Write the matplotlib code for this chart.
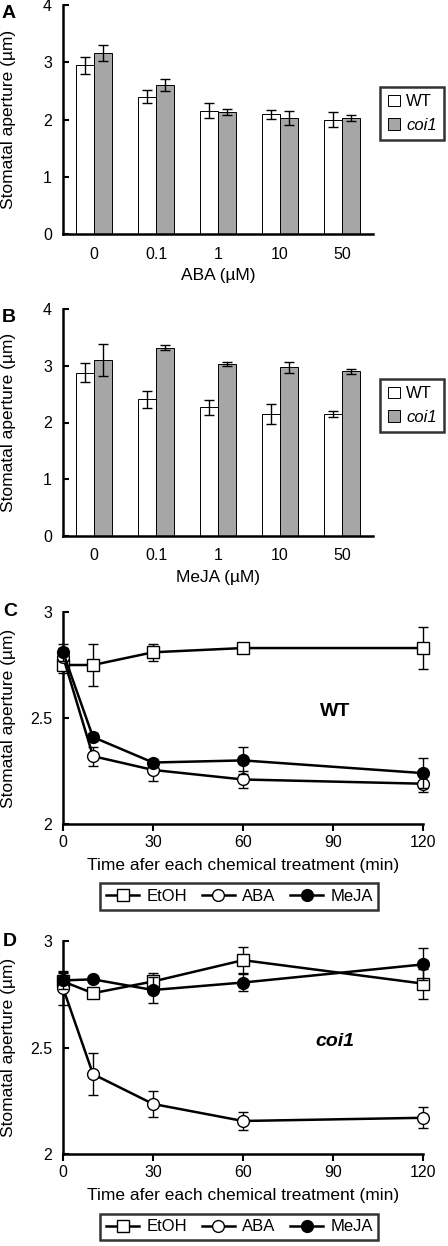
import matplotlib as mpl
mpl.use('Agg')
import numpy as np
import matplotlib.pyplot as plt
from matplotlib.lines import Line2D
from matplotlib.patches import Patch

plt.rcParams['font.family'] = ['Liberation Sans', 'DejaVu Sans']

# Panel A / B: bar data
conc_labels = ['0', '0.1', '1', '10', '50']
aba_wt = [2.95, 2.40, 2.15, 2.09, 2.00]
aba_wt_err = [0.15, 0.11, 0.13, 0.08, 0.13]
aba_coi1 = [3.16, 2.60, 2.13, 2.02, 2.03]
aba_coi1_err = [0.14, 0.10, 0.06, 0.12, 0.05]
meja_wt = [2.88, 2.41, 2.27, 2.15, 2.15]
meja_wt_err = [0.17, 0.15, 0.13, 0.18, 0.06]
meja_coi1 = [3.10, 3.32, 3.03, 2.97, 2.90]
meja_coi1_err = [0.28, 0.04, 0.04, 0.10, 0.05]

# Panel C / D: time course
time_min = [0, 10, 30, 60, 120]
wt_etoh = [2.75, 2.75, 2.81, 2.83, 2.83]
wt_etoh_err = [0.04, 0.10, 0.04, 0.025, 0.10]
wt_aba = [2.79, 2.32, 2.255, 2.21, 2.19]
wt_aba_err = [0.04, 0.045, 0.05, 0.04, 0.04]
wt_meja = [2.81, 2.41, 2.29, 2.30, 2.24]
wt_meja_err = [0.04, 0.02, 0.01, 0.065, 0.07]
coi_etoh = [2.81, 2.755, 2.81, 2.91, 2.80]
coi_etoh_err = [0.04, 0.01, 0.04, 0.06, 0.07]
coi_aba = [2.78, 2.375, 2.235, 2.155, 2.17]
coi_aba_err = [0.08, 0.10, 0.06, 0.04, 0.05]
coi_meja = [2.815, 2.82, 2.77, 2.805, 2.89]
coi_meja_err = [0.04, 0.01, 0.06, 0.04, 0.075]

W, H = 448, 1246
fig = plt.figure(figsize=(W / 100, H / 100), dpi=100)


def px_axes(left, top, right, bottom):
    return fig.add_axes([left / W, 1 - bottom / H, (right - left) / W, (bottom - top) / H])


def style(ax):
    for s in ['top', 'right']:
        ax.spines[s].set_visible(False)
    for s in ['left', 'bottom']:
        ax.spines[s].set_linewidth(1.8)
    ax.tick_params(labelsize=11.5)


def bar_panel(ax, wt, wt_err, coi, coi_err, xlabel, letter, leg_y):
    x = np.arange(len(conc_labels))
    w = 0.29
    ekw = dict(elinewidth=1.0, capthick=1.0)
    ax.bar(x - w / 2, wt, w, color='white', edgecolor='black', linewidth=0.7,
           yerr=wt_err, capsize=3.5, error_kw=ekw, label='WT')
    ax.bar(x + w / 2, coi, w, color='#a6a6a6', edgecolor='black', linewidth=0.7,
           yerr=coi_err, capsize=3.5, error_kw=ekw, label='coi1')
    style(ax)
    ax.set_xlim(-0.5, 4.5)
    ax.set_ylim(0, 4)
    ax.set_yticks([0, 1, 2, 3, 4])
    ax.set_xticks(x)
    ax.set_xticklabels(conc_labels)
    ax.tick_params(axis='y', direction='in', length=4, width=1.5, pad=8)
    ax.tick_params(axis='x', length=0, pad=9)
    ax.set_xlabel(xlabel, fontsize=12.5, labelpad=5)
    ax.set_ylabel('Stomatal aperture (µm)', fontsize=12.5)
    ax.yaxis.set_label_coords(-0.152, 0.5)
    handles = [Patch(facecolor='white', edgecolor='black', linewidth=0.7),
               Patch(facecolor='#a6a6a6', edgecolor='black', linewidth=0.7)]
    leg = ax.legend(handles, ['WT', 'coi1'], loc='center', bbox_to_anchor=(1.127, leg_y),
                    fontsize=12, frameon=True, fancybox=False, handlelength=0.7,
                    handleheight=0.7, handletextpad=0.4, borderpad=0.45, labelspacing=0.5,
                    borderaxespad=0)
    leg.get_frame().set_edgecolor('black')
    leg.get_frame().set_linewidth(1.8)
    leg.get_texts()[1].set_style('italic')
    ax.text(-0.197, 1.0, letter, transform=ax.transAxes, fontsize=14, fontweight='bold',
            ha='left', va='top')


def line_panel(ax, etoh, etoh_err, aba, aba_err, meja, meja_err, tag, tag_style, letter):
    kw = dict(color='black', linewidth=1.8, markersize=8.5, capsize=3.5,
              elinewidth=1.0, capthick=1.0, markeredgewidth=1.0, markeredgecolor='black')
    conts = [
        ax.errorbar(time_min, etoh, yerr=etoh_err, marker='s', markerfacecolor='white', zorder=3, **kw),
        ax.errorbar(time_min, aba, yerr=aba_err, marker='o', markerfacecolor='white', zorder=3, **kw),
        ax.errorbar(time_min, meja, yerr=meja_err, marker='o', markerfacecolor='black', zorder=4, **kw),
    ]
    for c in conts:
        for art in c.get_children():
            art.set_clip_on(False)
    style(ax)
    ax.set_xlim(0, 120)
    ax.set_ylim(2, 3)
    ax.set_xticks([0, 30, 60, 90, 120])
    ax.set_yticks([2, 2.5, 3])
    ax.set_yticklabels(['2', '2.5', '3'])
    ax.tick_params(axis='y', direction='in', length=4, width=1.5, pad=8)
    ax.tick_params(axis='x', direction='out', length=5, width=1.5, pad=3)
    ax.set_xlabel('Time afer each chemical treatment (min)', fontsize=12.5, labelpad=6)
    ax.set_ylabel('Stomatal aperture (µm)', fontsize=12.5)
    ax.yaxis.set_label_coords(-0.131, 0.5)
    ax.text(90.7, 2.53, tag, fontsize=14, fontweight='bold', style=tag_style,
            ha='center', va='center')
    handles = [Line2D([], [], color='black', lw=1.8, marker='s', markersize=8.5,
                      markerfacecolor='white', markeredgecolor='black', markeredgewidth=1.0),
               Line2D([], [], color='black', lw=1.8, marker='o', markersize=8.5,
                      markerfacecolor='white', markeredgecolor='black', markeredgewidth=1.0),
               Line2D([], [], color='black', lw=1.8, marker='o', markersize=8.5,
                      markerfacecolor='black', markeredgecolor='black')]
    leg = ax.legend(handles, ['EtOH', 'ABA', 'MeJA'], loc='center',
                    bbox_to_anchor=(0.49, -0.342), ncol=3, fontsize=12, frameon=True,
                    fancybox=False, handlelength=2.0, handletextpad=0.4, columnspacing=0.9,
                    borderpad=0.35, borderaxespad=0)
    leg.get_frame().set_edgecolor('black')
    leg.get_frame().set_linewidth(1.8)
    ax.text(-0.167, 1.0, letter, transform=ax.transAxes, fontsize=14, fontweight='bold',
            ha='left', va='center')


axA = px_axes(63, 5, 373, 234)
bar_panel(axA, aba_wt, aba_wt_err, aba_coi1, aba_coi1_err, 'ABA (µM)', 'A', 0.526)
axB = px_axes(63, 309, 373, 536)
bar_panel(axB, meja_wt, meja_wt_err, meja_coi1, meja_coi1_err, 'MeJA (µM)', 'B', 0.575)
axC = px_axes(63, 612, 423, 824)
line_panel(axC, wt_etoh, wt_etoh_err, wt_aba, wt_aba_err, wt_meja, wt_meja_err, 'WT', 'normal', 'C')
axD = px_axes(63, 941, 423, 1154)
line_panel(axD, coi_etoh, coi_etoh_err, coi_aba, coi_aba_err, coi_meja, coi_meja_err, 'coi1', 'italic', 'D')

fig.savefig('out.png', dpi=100)
